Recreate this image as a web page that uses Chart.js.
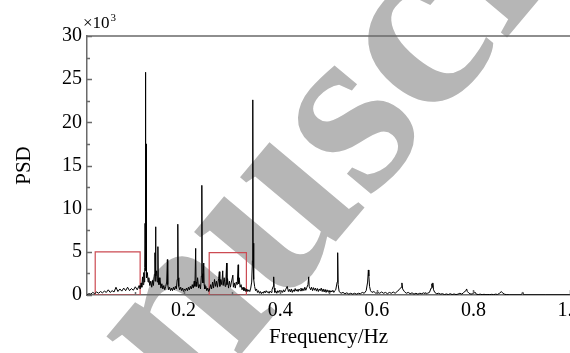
<!DOCTYPE html>
<html>
<head>
<meta charset="utf-8">
<script src="https://cdn.jsdelivr.net/npm/chart.js@4.4.1/dist/chart.umd.min.js"></script>
<style>
  html, body { margin: 0; padding: 0; background: #fff; overflow: hidden; }
  #wrap { width: 600px; height: 353px; }
</style>
</head>
<body>
<div id="wrap"><canvas id="psdChart" width="600" height="353"></canvas></div>
<script>
// ── Data (PSD in units of 10^3) ──
const freq = [
  0.000,0.004,0.008,0.012,0.016,0.020,0.024,0.028,0.032,0.036,0.040,0.044,0.048,0.052,0.056,0.060,0.064,0.068,0.072,0.076,0.080,0.084,0.088,0.092,0.096,0.100,0.104,0.108,
  0.110,0.112,0.1135,0.115,0.116,0.1175,0.1185,0.1195,0.1202,0.1209,0.1213,0.1218,0.1223,0.1228,0.1235,0.125,0.1265,0.128,0.130,0.132,0.134,0.136,0.1375,0.1395,0.1407,0.1412,0.1420,0.1426,0.1440,0.1455,0.1468,0.1475,0.149,
  0.151,0.153,0.155,0.157,0.159,0.161,0.163,0.1650,0.1664,0.1672,0.169,0.171,0.173,0.175,0.177,0.179,0.181,0.183,0.185,0.1868,0.1880,0.1888,0.190,0.192,0.194,0.196,0.198,0.200,
  0.202,0.204,0.206,0.208,0.210,0.212,0.214,0.216,0.218,0.220,0.222,0.2235,0.2250,0.2258,0.227,0.229,0.231,0.233,0.235,0.2368,0.2375,0.2380,0.2386,0.2400,0.2417,0.2425,0.244,0.246,0.248,0.250,
  0.252,0.254,0.256,0.258,0.260,0.262,0.264,0.266,0.268,0.270,0.2725,0.2740,0.2750,0.277,0.2790,0.2810,0.2820,0.284,0.286,0.2875,0.2890,0.2898,0.291,0.293,0.295,0.297,0.299,0.3020,0.3030,
  0.305,0.307,0.309,0.311,0.3130,0.3138,0.315,0.317,0.319,0.321,0.323,0.325,0.327,0.329,0.331,0.333,0.335,0.337,0.339,0.341,0.3425,0.3430,0.3435,0.3440,0.3448,0.3455,0.347,0.349,0.351,0.353,0.355,
  0.357,0.359,0.361,0.363,0.365,0.367,0.369,0.371,0.373,0.375,0.377,0.379,0.381,0.383,0.3855,0.3865,0.3875,0.389,0.391,0.393,0.395,0.397,0.399,0.401,0.403,0.405,0.407,0.409,0.411,0.4145,
  0.417,0.419,0.421,0.423,0.425,0.427,0.429,0.431,0.433,0.435,0.437,0.439,0.441,0.443,0.445,0.447,0.449,0.451,0.453,0.455,0.4575,0.4590,0.4600,
  0.463,0.465,0.467,0.469,0.471,0.473,0.475,0.477,0.479,0.481,0.483,0.485,0.487,0.489,0.491,0.493,0.495,0.497,0.499,0.501,0.503,0.505,0.507,0.509,0.511,0.513,0.515,0.5180,0.5190,0.5200,
  0.522,0.526,0.530,0.534,0.538,0.542,0.546,0.550,0.554,0.558,0.562,0.566,0.570,
  0.574,0.578,0.5810,0.5825,0.5835,0.5850,0.587,0.590,0.594,0.598,
  0.602,0.606,0.610,0.614,0.618,0.622,0.626,0.630,0.634,0.638,0.642,0.646,0.6505,0.6520,0.6535,0.657,0.661,0.665,0.669,0.673,0.677,0.681,0.685,0.689,0.693,0.697,0.701,0.705,0.709,
  0.7125,0.7140,0.7150,0.7160,0.7175,0.720,0.724,0.728,0.732,0.736,0.740,0.744,0.748,0.752,0.756,0.760,0.764,0.768,0.772,0.776,0.780,0.7845,0.7860,0.7875,0.791,0.795,0.799,0.8030,
  0.806,0.810,0.814,0.818,0.822,0.826,0.830,0.834,0.838,0.842,0.846,0.850,0.854,0.8580,0.8610,0.865,0.869,0.875,0.900,0.9020,0.9040,0.950,1.000
];
const psd = [
  0.05,0.15,0.1,0.3,0.15,0.35,0.2,0.4,0.25,0.45,0.3,0.6,0.3,0.5,0.35,0.9,0.4,0.7,0.45,0.8,0.5,0.9,0.5,0.75,0.55,0.95,0.6,1.1,
  0.7,1.4,0.9,2.1,1.2,2.6,1.5,3.2,8.3,25.8,2.8,6.0,17.5,3.5,2.0,2.6,1.5,2.0,1.1,1.6,0.9,1.7,1.1,2.4,4.9,1.6,7.9,2.2,2.8,1.5,5.6,2.0,1.2,
  2.0,0.8,1.3,0.7,1.1,0.6,1.0,1.5,4.1,1.2,0.6,0.9,0.5,0.8,0.5,0.9,0.6,1.0,0.7,1.8,8.2,2.0,1.0,0.6,0.9,0.5,0.8,0.4,
  0.7,0.5,0.8,0.5,0.9,0.6,1.0,0.7,1.2,0.8,1.6,1.0,5.4,1.5,1.0,2.0,0.8,1.2,0.7,2.2,6.6,12.7,2.5,1.4,3.7,1.2,0.7,1.0,0.5,0.8,
  0.4,0.7,1.2,0.7,1.5,0.8,1.8,1.0,1.6,0.9,1.9,2.7,1.0,1.8,1.2,2.8,1.1,2.0,1.0,1.6,3.7,1.2,1.9,0.8,1.6,0.9,1.5,2.3,0.9,
  1.4,0.8,1.5,1.2,3.5,1.3,2.0,0.9,1.2,0.6,0.9,0.5,0.8,0.4,0.7,0.4,0.6,0.4,0.8,1.5,4.0,7.0,22.6,3.5,6.0,1.8,1.0,0.5,0.7,0.3,0.5,
  0.2,0.4,0.15,0.35,0.2,0.45,0.25,0.5,0.3,0.4,0.2,0.45,0.3,0.6,1.0,2.1,0.8,0.3,0.45,0.2,0.5,0.3,0.55,0.25,0.5,0.3,0.6,0.35,0.6,1.0,
  0.4,0.65,0.35,0.7,0.3,0.6,0.4,0.75,0.45,0.65,0.4,0.7,0.5,0.8,0.45,0.75,0.5,0.9,0.55,0.85,1.2,2.1,1.0,
  0.6,0.9,0.5,0.85,0.55,0.8,0.45,0.75,0.4,0.7,0.5,0.8,0.4,0.7,0.35,0.65,0.3,0.6,0.35,0.55,0.3,0.5,0.35,0.55,0.3,0.5,0.6,1.5,4.9,1.2,
  0.4,0.2,0.3,0.15,0.25,0.1,0.2,0.1,0.2,0.1,0.2,0.15,0.3,
  0.2,0.5,1.5,2.9,2.2,1.0,0.5,0.3,0.4,0.2,
  0.3,0.2,0.35,0.2,0.3,0.15,0.3,0.2,0.35,0.2,0.4,0.6,0.9,1.4,0.7,0.4,0.2,0.3,0.15,0.25,0.1,0.2,0.1,0.2,0.15,0.25,0.1,0.2,0.3,
  0.8,1.3,0.9,1.4,0.6,0.3,0.15,0.2,0.1,0.15,0.05,0.12,0.05,0.15,0.05,0.12,0.05,0.1,0.2,0.1,0.3,0.5,0.7,0.4,0.2,0.1,0.15,0.35,
  0.1,0.05,0.1,0.04,0.08,0.04,0.06,0.04,0.08,0.04,0.1,0.06,0.2,0.4,0.2,0.08,0.04,0.02,0.02,0.35,0.02,0.02,0.02
];

// highlighted bands: [fStart, fEnd, psdTop]
const box1 = [0.017, 0.110, 5.0];
const box2 = [0.253, 0.330, 4.9];

const yTicks = [0, 5, 10, 15, 20, 25, 30];
const xTicks = [0.2, 0.4, 0.6, 0.8, 1.0];

const serif = '"Liberation Serif", "Times New Roman", serif';

function boxPoints(b) {
  return [
    { x: b[0], y: 0 }, { x: b[0], y: b[2] }, { x: b[1], y: b[2] }, { x: b[1], y: 0 }, { x: b[0], y: 0 }
  ];
}

// watermark behind everything, then inward ticks, top frame line and the x10^3 marker
const framePlugin = {
  id: 'frame',
  beforeDraw(chart) {
    const { ctx } = chart;
    ctx.save();
    ctx.fillStyle = '#b6b6b6';
    const size = 250;
    ctx.font = 'bold ' + size + 'px ' + serif;
    ctx.textBaseline = 'alphabetic';
    const pre = ctx.measureText('manu').width;
    const sW = ctx.measureText('s').width;
    ctx.translate(356, 128);
    ctx.rotate(-50 * Math.PI / 180);
    ctx.fillText('manuscript', -pre - sW / 2, size * 0.23);
    ctx.restore();
  },
  afterDraw(chart) {
    const { ctx, chartArea: a, scales: { x, y } } = chart;
    ctx.save();
    ctx.strokeStyle = '#6a6a6a';
    ctx.lineWidth = 1.5;
    ctx.beginPath();
    ctx.moveTo(a.left, a.top);
    ctx.lineTo(a.right + 40, a.top);
    // y ticks (major 5, minor 2.5), drawn inward
    for (let v = 0; v <= 30; v += 2.5) {
      const py = Math.round(y.getPixelForValue(v)) + 0.5;
      const len = v % 5 === 0 ? 5 : 3;
      ctx.moveTo(a.left, py);
      ctx.lineTo(a.left + len, py);
    }
    for (let v = 0.1; v <= 1.0001; v += 0.1) {
      const px = Math.round(x.getPixelForValue(v)) + 0.5;
      const len = Math.round(v * 10) % 2 === 0 ? 5 : 3;
      ctx.moveTo(px, a.bottom);
      ctx.lineTo(px, a.bottom - len);
    }
    ctx.stroke();

    ctx.fillStyle = '#000';
    ctx.textBaseline = 'alphabetic';
    ctx.font = '17px ' + serif;
    ctx.fillText('\u00d710', 83, 28);
    const w = ctx.measureText('\u00d710').width;
    ctx.font = '11px ' + serif;
    ctx.fillText('3', 83 + w + 1, 21);
    ctx.restore();
  }
};

const ctx = document.getElementById('psdChart');
new Chart(ctx, {
  type: 'line',
  data: {
    datasets: [
      {
        label: 'PSD',
        data: freq.map((f, i) => ({ x: f, y: psd[i] })),
        borderColor: '#000',
        borderWidth: 1,
        pointRadius: 0,
        tension: 0,
        fill: false
      },
      {
        label: 'band 1',
        data: boxPoints(box1),
        borderColor: '#cc4a52',
        borderWidth: 1.2,
        pointRadius: 0,
        tension: 0
      },
      {
        label: 'band 2',
        data: boxPoints(box2),
        borderColor: '#cc4a52',
        borderWidth: 1.2,
        pointRadius: 0,
        tension: 0
      }
    ]
  },
  options: {
    responsive: false,
    animation: false,
    layout: { padding: { top: 36, right: 30, left: 0, bottom: 0 } },
    plugins: { legend: { display: false }, tooltip: { enabled: false } },
    scales: {
      x: {
        type: 'linear',
        min: 0,
        max: 1.0,
        afterBuildTicks: s => { s.ticks = xTicks.map(v => ({ value: v })); },
        afterFit: s => { s.height = 58; },
        ticks: {
          color: '#000',
          font: { family: serif, size: 20 },
          padding: 4,
          maxRotation: 0,
          callback: v => v.toFixed(1)
        },
        grid: { display: false, drawTicks: false },
        border: { display: true, color: '#6a6a6a', width: 1.5 },
        title: {
          display: true,
          text: 'Frequency/Hz',
          color: '#000',
          font: { family: serif, size: 21, lineHeight: 1.2 },
          padding: { top: 0, bottom: 3 }
        }
      },
      y: {
        type: 'linear',
        min: 0,
        max: 30,
        afterBuildTicks: s => { s.ticks = yTicks.map(v => ({ value: v })); },
        afterFit: s => { s.width = 87; },
        ticks: {
          color: '#000',
          font: { family: serif, size: 20 },
          padding: 5
        },
        grid: { display: false, drawTicks: false },
        border: { display: true, color: '#6a6a6a', width: 1.5 },
        title: {
          display: true,
          text: 'PSD',
          color: '#000',
          font: { family: serif, size: 21, lineHeight: 1.2 },
          padding: { top: 12, bottom: 0 }
        }
      }
    }
  },
  plugins: [framePlugin]
});
</script>
</body>
</html>
